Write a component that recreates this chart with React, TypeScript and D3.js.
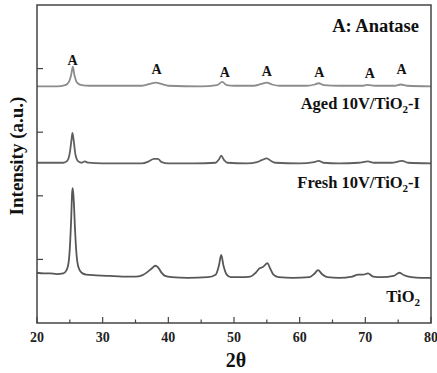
import React from 'react';
import * as d3 from 'd3';

// XRD patterns: [2theta, intensity (offset, a.u.)]
const tio2: [number, number][] = [
  [20, 0.79], [21, 0.78], [22, 0.78], [23, 0.77], [24, 0.78], [24.5, 0.83], [24.8, 0.94],
  [25.0, 1.18], [25.2, 1.62], [25.35, 2.05], [25.45, 2.12], [25.6, 1.92], [25.8, 1.45], [26.0, 1.1],
  [26.3, 0.88], [26.8, 0.79], [27.5, 0.76], [29, 0.75], [31, 0.74], [33, 0.73], [35, 0.73],
  [36, 0.75], [36.8, 0.8], [37.5, 0.86], [38.0, 0.9], [38.4, 0.88], [38.9, 0.8], [39.5, 0.74],
  [40.5, 0.72], [43, 0.71], [46, 0.72], [47.2, 0.76], [47.7, 0.9], [48.05, 1.07], [48.4, 0.9],
  [48.9, 0.76], [49.5, 0.72], [51, 0.72], [52.5, 0.73], [53.3, 0.79], [53.9, 0.86], [54.4, 0.88],
  [55.1, 0.94], [55.5, 0.86], [56.0, 0.76], [56.8, 0.72], [59, 0.71], [61.5, 0.72], [62.2, 0.77],
  [62.8, 0.83], [63.4, 0.77], [64.2, 0.72], [66, 0.71], [68, 0.73], [68.9, 0.76], [69.7, 0.76],
  [70.4, 0.78], [71.2, 0.73], [72.5, 0.72], [74.3, 0.74], [75.2, 0.79], [75.9, 0.75], [77, 0.72],
  [78.5, 0.71], [80, 0.71],
];

const fresh: [number, number][] = [
  [20, 2.52], [22, 2.52], [24, 2.52], [24.6, 2.55], [25.0, 2.68], [25.25, 2.88], [25.4, 2.99],
  [25.6, 2.86], [25.85, 2.65], [26.2, 2.55], [26.8, 2.52], [27.3, 2.54], [27.8, 2.52], [30, 2.51],
  [33, 2.51], [36, 2.51], [37, 2.54], [37.8, 2.58], [38.4, 2.58], [39.0, 2.53], [40, 2.51],
  [44, 2.51], [47.2, 2.52], [47.7, 2.57], [48.05, 2.63], [48.5, 2.56], [49, 2.52], [52, 2.51],
  [53.5, 2.53], [54.2, 2.56], [55.0, 2.59], [55.6, 2.55], [56.3, 2.52], [60, 2.51], [62.2, 2.53],
  [62.9, 2.55], [63.6, 2.52], [66, 2.51], [69, 2.52], [70.4, 2.54], [71.3, 2.52], [74, 2.52],
  [75.6, 2.55], [76.5, 2.52], [80, 2.51],
];

const aged: [number, number][] = [
  [20, 3.72], [23, 3.72], [24.3, 3.74], [24.9, 3.8], [25.2, 3.9], [25.45, 4.03], [25.7, 3.9],
  [26.1, 3.78], [26.8, 3.74], [28, 3.73], [32, 3.73], [36, 3.73], [37.2, 3.76], [38.1, 3.78],
  [38.9, 3.76], [40, 3.73], [45, 3.72], [47.4, 3.74], [48.2, 3.79], [48.9, 3.74], [50, 3.73],
  [53, 3.73], [54.2, 3.76], [55.0, 3.78], [55.8, 3.75], [57, 3.73], [61, 3.73], [62.3, 3.75],
  [62.9, 3.77], [63.7, 3.74], [66, 3.73], [69.5, 3.73], [70.3, 3.745], [71.5, 3.73], [74.5, 3.73],
  [75.4, 3.75], [76.4, 3.73], [80, 3.72],
];

// anatase reflections marked with "A" (2theta, label height)
const anataseX = [25.4, 38.2, 48.6, 55.0, 63.0, 70.7, 75.5];
const anataseY = [4.06, 3.91, 3.87, 3.89, 3.87, 3.86, 3.91];

const xTicks = [20, 30, 40, 50, 60, 70, 80];
const xMinor = [25, 35, 45, 55, 65, 75];
const yTicks = [1, 2, 3, 4];

const W = 437, H = 373;
const margin = { top: 5, right: 6, bottom: 50, left: 37 };
const font = "'Liberation Serif', 'DejaVu Serif', serif";

export default function App() {
  const x = d3.scaleLinear().domain([20, 80]).range([margin.left, W - margin.right]);
  const y = d3.scaleLinear().domain([0, 5]).range([H - margin.bottom, margin.top]);
  const line = d3.line<[number, number]>().x(d => x(d[0])).y(d => y(d[1])).curve(d3.curveMonotoneX);

  const x0 = x.range()[0], x1 = x.range()[1];
  const yb = y.range()[0], yt = y.range()[1];

  const series = [
    { d: tio2, color: '#575757' },
    { d: fresh, color: '#606060' },
    { d: aged, color: '#8c8c8c' },
  ];

  const ts = { fontFamily: font, fontWeight: 700 } as React.CSSProperties;

  return (
    <svg width={W} height={H} style={{ position: 'absolute', left: 0, top: 0, background: '#fff' }}>
      {series.map((s, i) => (
        <path key={i} d={line(s.d) || ''} fill="none" stroke={s.color} strokeWidth={1.8} strokeLinejoin="round" />
      ))}

      {/* frame */}
      <rect x={x0} y={yt} width={x1 - x0} height={yb - yt} fill="none" stroke="#444" strokeWidth={1.5} />

      {xTicks.map(t => (
        <g key={t}>
          <line x1={x(t)} x2={x(t)} y1={yb} y2={yb - 6} stroke="#444" strokeWidth={1.2} />
          <text x={x(t)} y={yb + 19} textAnchor="middle" fontSize={14} fill="#222" style={ts}>{t}</text>
        </g>
      ))}
      {xMinor.map(t => (
        <line key={t} x1={x(t)} x2={x(t)} y1={yb} y2={yb - 3.5} stroke="#444" strokeWidth={1.2} />
      ))}
      {yTicks.map(t => (
        <line key={t} x1={x0} x2={x0 + 6} y1={y(t)} y2={y(t)} stroke="#444" strokeWidth={1.2} />
      ))}

      {anataseX.map((a, i) => (
        <text key={i} x={x(a)} y={y(anataseY[i])} textAnchor="middle" fontSize={14} fill="#111" style={ts}>A</text>
      ))}

      <text x={419} y={32} textAnchor="end" fontSize={18.5} fill="#111" style={ts}>A: Anatase</text>
      <text x={420} y={109} textAnchor="end" fontSize={16.5} fill="#111" style={ts}>
        Aged 10V/TiO<tspan fontSize={11} dy={4}>2</tspan><tspan dy={-4}>-I</tspan>
      </text>
      <text x={420} y={188} textAnchor="end" fontSize={16.5} fill="#111" style={ts}>
        Fresh 10V/TiO<tspan fontSize={11} dy={4}>2</tspan><tspan dy={-4}>-I</tspan>
      </text>
      <text x={420} y={302} textAnchor="end" fontSize={16.5} fill="#111" style={ts}>
        TiO<tspan fontSize={11} dy={4}>2</tspan>
      </text>

      <text x={236} y={367} textAnchor="middle" fontSize={20} fill="#111" style={ts}>2θ</text>
      <text transform={`translate(23,${(yt + yb) / 2 - 8}) rotate(-90)`} textAnchor="middle" fontSize={19} fill="#111" style={ts}>
        Intensity (a.u.)
      </text>
    </svg>
  );
}
